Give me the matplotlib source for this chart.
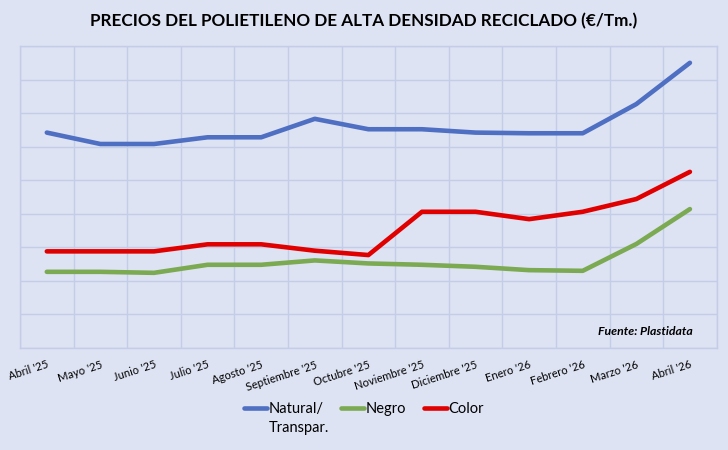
import matplotlib
matplotlib.use("Agg")
import matplotlib.pyplot as plt
import numpy as np

plt.rcParams['font.family'] = ['Lato', 'DejaVu Sans']

meses = ["Abril '25", "Mayo '25", "Junio '25", "Julio '25", "Agosto '25",
         "Septiembre '25", "Octubre '25", "Noviembre '25", "Diciembre '25",
         "Enero '26", "Febrero '26", "Marzo '26", "Abril '26"]
natural = [642, 608, 608, 628, 628, 683, 652, 652, 642, 640, 640, 727, 850]
negro = [227, 227, 224, 248, 248, 261, 252, 248, 242, 232, 230, 310, 414]
color = [288, 288, 288, 309, 309, 290, 277, 406, 406, 384, 406, 444, 525]

bg = '#DDE3F3'
grid_c = '#C3CCE8'

fig = plt.figure(figsize=(7.28, 4.5), dpi=100, facecolor=bg)
ax = fig.add_axes([0.0275, 0.2267, 0.957, 0.671])
ax.set_facecolor(bg)

x = np.arange(len(meses))
ax.plot(x, natural, color='#4F6FC3', lw=3.3, solid_capstyle='round', label='Natural/')
ax.plot(x, negro, color='#7BAA52', lw=3.3, solid_capstyle='round', label='Negro')
ax.plot(x, color, color='#E00000', lw=3.3, solid_capstyle='round', label='Color')

ax.set_xlim(-0.5, len(meses) - 0.5)
ax.set_ylim(0, 900)
ax.set_yticks(np.arange(0, 901, 100))
ax.set_xticks(np.arange(-0.5, len(meses), 1), minor=False)
ax.set_xticklabels([])
ax.set_xticks(x, minor=True)
ax.set_xticklabels(meses, minor=True, rotation=18, ha='right',
                   rotation_mode='anchor', fontsize=8)
ax.tick_params(axis='x', which='both', length=0, pad=8)
ax.tick_params(axis='y', length=0, labelleft=False)
ax.grid(True, which='major', color=grid_c, lw=1)
ax.set_axisbelow(True)
for s in ax.spines.values():
    s.set_color(grid_c)
    s.set_linewidth(1)

ax.text(0.966, 0.055, 'Fuente: Plastidata', transform=ax.transAxes,
        ha='right', va='center', fontsize=8.8, fontweight='bold', style='italic')

fig.text(0.5, 0.953, 'PRECIOS DEL POLIETILENO DE ALTA DENSIDAD RECICLADO (€/Tm.)',
         ha='center', va='center', fontsize=12.3, fontweight='bold')

leg = fig.legend(loc='center', bbox_to_anchor=(0.5, 0.091), ncol=3, frameon=False,
                 fontsize=10.5, handlelength=1.6, handletextpad=0.1, columnspacing=1.2)

# second line of the first legend entry, placed under "Natural/"
fig.canvas.draw()
bb = leg.get_texts()[0].get_window_extent().transformed(fig.transFigure.inverted())
fig.text(bb.x0, bb.y0 - 0.042, 'Transpar.', ha='left', va='bottom', fontsize=10.5)

fig.savefig('out.png', dpi=100, facecolor=bg)
